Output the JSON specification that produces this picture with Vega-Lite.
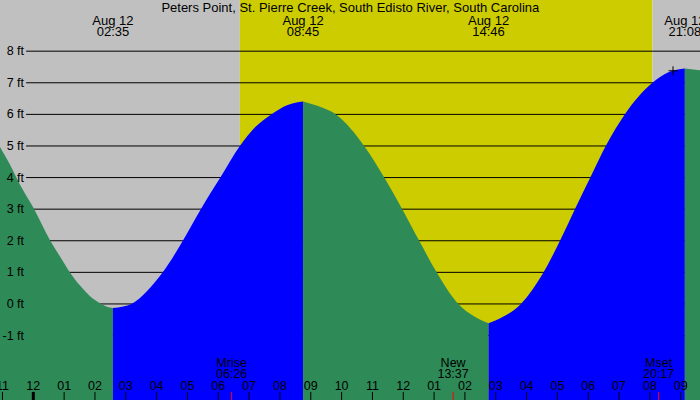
{
  "$schema": "https://vega.github.io/schema/vega-lite/v6.json",
  "width": 700,
  "height": 400,
  "autosize": {"type": "fit", "contains": "padding"},
  "padding": 0,
  "config": {
    "view": {"stroke": null},
    "axis": {"disable": true},
    "text": {"font": "Liberation Sans", "fontSize": 12.5, "color": "black"}
  },
  "datasets": {
    "station": [{"name": "Peters Point, St. Pierre Creek, South Edisto River, South Carolina"}],
    "sky": [
      {"start": "2018-08-11T22:00", "end": "2018-08-12T06:42", "sky": "night"},
      {"start": "2018-08-12T06:42", "end": "2018-08-12T20:05", "sky": "day"},
      {"start": "2018-08-12T20:05", "end": "2018-08-12T22:00", "sky": "night"}
    ],
    "levels": [
      {"ft": -1, "lab": "-1 ft"}, {"ft": 0, "lab": "0 ft"}, {"ft": 1, "lab": "1 ft"},
      {"ft": 2, "lab": "2 ft"}, {"ft": 3, "lab": "3 ft"}, {"ft": 4, "lab": "4 ft"},
      {"ft": 5, "lab": "5 ft"}, {"ft": 6, "lab": "6 ft"}, {"ft": 7, "lab": "7 ft"},
      {"ft": 8, "lab": "8 ft"}
    ],
    "tide": [
      {"t": "2018-08-11T22:50", "h": 5.12, "seg": "a", "dir": "falling"},
      {"t": "2018-08-11T22:55", "h": 4.97, "seg": "a", "dir": "falling"},
      {"t": "2018-08-11T23:15", "h": 4.40, "seg": "a", "dir": "falling"},
      {"t": "2018-08-11T23:34", "h": 3.78, "seg": "a", "dir": "falling"},
      {"t": "2018-08-12T00:00", "h": 3.05, "seg": "a", "dir": "falling"},
      {"t": "2018-08-12T00:32", "h": 2.03, "seg": "a", "dir": "falling"},
      {"t": "2018-08-12T00:52", "h": 1.50, "seg": "a", "dir": "falling"},
      {"t": "2018-08-12T01:10", "h": 1.03, "seg": "a", "dir": "falling"},
      {"t": "2018-08-12T01:31", "h": 0.58, "seg": "a", "dir": "falling"},
      {"t": "2018-08-12T01:50", "h": 0.25, "seg": "a", "dir": "falling"},
      {"t": "2018-08-12T02:10", "h": 0.02, "seg": "a", "dir": "falling"},
      {"t": "2018-08-12T02:22", "h": -0.08, "seg": "a", "dir": "falling"},
      {"t": "2018-08-12T02:35", "h": -0.13, "seg": "a", "dir": "falling"},
      {"t": "2018-08-12T02:35", "h": -0.13, "seg": "b", "dir": "rising"},
      {"t": "2018-08-12T02:55", "h": -0.08, "seg": "b", "dir": "rising"},
      {"t": "2018-08-12T03:11", "h": 0.0, "seg": "b", "dir": "rising"},
      {"t": "2018-08-12T03:42", "h": 0.42, "seg": "b", "dir": "rising"},
      {"t": "2018-08-12T04:12", "h": 1.0, "seg": "b", "dir": "rising"},
      {"t": "2018-08-12T04:51", "h": 2.0, "seg": "b", "dir": "rising"},
      {"t": "2018-08-12T05:26", "h": 3.0, "seg": "b", "dir": "rising"},
      {"t": "2018-08-12T06:04", "h": 4.0, "seg": "b", "dir": "rising"},
      {"t": "2018-08-12T06:42", "h": 5.0, "seg": "b", "dir": "rising"},
      {"t": "2018-08-12T07:12", "h": 5.6, "seg": "b", "dir": "rising"},
      {"t": "2018-08-12T07:43", "h": 6.0, "seg": "b", "dir": "rising"},
      {"t": "2018-08-12T08:15", "h": 6.3, "seg": "b", "dir": "rising"},
      {"t": "2018-08-12T08:45", "h": 6.41, "seg": "b", "dir": "rising"},
      {"t": "2018-08-12T08:45", "h": 6.41, "seg": "c", "dir": "falling"},
      {"t": "2018-08-12T09:18", "h": 6.24, "seg": "c", "dir": "falling"},
      {"t": "2018-08-12T09:49", "h": 6.0, "seg": "c", "dir": "falling"},
      {"t": "2018-08-12T10:44", "h": 5.0, "seg": "c", "dir": "falling"},
      {"t": "2018-08-12T11:23", "h": 4.0, "seg": "c", "dir": "falling"},
      {"t": "2018-08-12T11:58", "h": 3.0, "seg": "c", "dir": "falling"},
      {"t": "2018-08-12T12:31", "h": 2.0, "seg": "c", "dir": "falling"},
      {"t": "2018-08-12T13:05", "h": 1.0, "seg": "c", "dir": "falling"},
      {"t": "2018-08-12T13:47", "h": 0.0, "seg": "c", "dir": "falling"},
      {"t": "2018-08-12T14:16", "h": -0.37, "seg": "c", "dir": "falling"},
      {"t": "2018-08-12T14:46", "h": -0.61, "seg": "c", "dir": "falling"},
      {"t": "2018-08-12T14:46", "h": -0.61, "seg": "d", "dir": "rising"},
      {"t": "2018-08-12T15:15", "h": -0.40, "seg": "d", "dir": "rising"},
      {"t": "2018-08-12T15:49", "h": 0.0, "seg": "d", "dir": "rising"},
      {"t": "2018-08-12T16:33", "h": 1.0, "seg": "d", "dir": "rising"},
      {"t": "2018-08-12T17:05", "h": 2.0, "seg": "d", "dir": "rising"},
      {"t": "2018-08-12T17:34", "h": 3.0, "seg": "d", "dir": "rising"},
      {"t": "2018-08-12T18:04", "h": 4.0, "seg": "d", "dir": "rising"},
      {"t": "2018-08-12T18:34", "h": 5.0, "seg": "d", "dir": "rising"},
      {"t": "2018-08-12T19:11", "h": 6.0, "seg": "d", "dir": "rising"},
      {"t": "2018-08-12T20:05", "h": 7.0, "seg": "d", "dir": "rising"},
      {"t": "2018-08-12T20:36", "h": 7.33, "seg": "d", "dir": "rising"},
      {"t": "2018-08-12T21:08", "h": 7.45, "seg": "d", "dir": "rising"},
      {"t": "2018-08-12T21:08", "h": 7.45, "seg": "e", "dir": "falling"},
      {"t": "2018-08-12T21:40", "h": 7.39, "seg": "e", "dir": "falling"}
    ],
    "extremes": [
      {"t": "2018-08-12T02:35", "h": -0.13},
      {"t": "2018-08-12T08:45", "h": 6.41},
      {"t": "2018-08-12T14:46", "h": -0.61},
      {"t": "2018-08-12T21:08", "h": 7.45}
    ],
    "hours": [
      {"t": "2018-08-11T23:00"}, {"t": "2018-08-12T00:00"}, {"t": "2018-08-12T01:00"},
      {"t": "2018-08-12T02:00"}, {"t": "2018-08-12T03:00"}, {"t": "2018-08-12T04:00"},
      {"t": "2018-08-12T05:00"}, {"t": "2018-08-12T06:00"}, {"t": "2018-08-12T07:00"},
      {"t": "2018-08-12T08:00"}, {"t": "2018-08-12T09:00"}, {"t": "2018-08-12T10:00"},
      {"t": "2018-08-12T11:00"}, {"t": "2018-08-12T12:00"}, {"t": "2018-08-12T13:00"},
      {"t": "2018-08-12T14:00"}, {"t": "2018-08-12T15:00"}, {"t": "2018-08-12T16:00"},
      {"t": "2018-08-12T17:00"}, {"t": "2018-08-12T18:00"}, {"t": "2018-08-12T19:00"},
      {"t": "2018-08-12T20:00"}, {"t": "2018-08-12T21:00"}
    ],
    "days": [{"t": "2018-08-12T00:00"}],
    "moon": [
      {"t": "2018-08-12T06:26", "ev": "Mrise"},
      {"t": "2018-08-12T13:37", "ev": "New"},
      {"t": "2018-08-12T20:17", "ev": "Mset"}
    ],
    "marker": [{"t": "2018-08-12T20:45", "h": 7.38}]
  },
  "layer": [
    {
      "data": {"name": "sky"},
      "mark": {"type": "rect", "clip": true},
      "encoding": {
        "x": {
          "field": "start", "type": "temporal", "axis": null,
          "scale": {"domain": [
            {"year": 2018, "month": 8, "date": 11, "hours": 22, "minutes": 55, "seconds": 12},
            {"year": 2018, "month": 8, "date": 12, "hours": 21, "minutes": 37, "seconds": 30}
          ]}
        },
        "x2": {"field": "end"},
        "color": {
          "field": "sky", "type": "nominal", "legend": null,
          "scale": {"domain": ["night", "day", "falling", "rising"], "range": ["#c0c0c0", "#cccc00", "#2e8b57", "#0000ff"]}
        }
      }
    },
    {
      "data": {"name": "levels"},
      "mark": {"type": "rule", "color": "black", "strokeWidth": 1, "clip": true},
      "encoding": {
        "y": {"field": "ft", "type": "quantitative", "axis": null, "scale": {"domain": [-3.04, 9.62], "nice": false, "zero": false}},
        "x": {"datum": {"year": 2018, "month": 8, "date": 11, "hours": 23, "minutes": 46}, "type": "temporal"},
        "x2": {"datum": {"year": 2018, "month": 8, "date": 12, "hours": 22, "minutes": 0}}
      }
    },
    {
      "data": {"name": "tide"},
      "mark": {"type": "area", "interpolate": "monotone", "clip": true},
      "encoding": {
        "x": {"field": "t", "type": "temporal"},
        "y": {"field": "h", "type": "quantitative", "stack": null},
        "y2": {"datum": -3.2},
        "color": {"field": "dir", "type": "nominal", "legend": null},
        "detail": {"field": "seg"}
      }
    },
    {
      "data": {"name": "levels"},
      "mark": {"type": "text", "align": "right", "baseline": "alphabetic", "dy": 4, "clip": true},
      "encoding": {
        "y": {"field": "ft", "type": "quantitative"},
        "x": {"datum": {"year": 2018, "month": 8, "date": 11, "hours": 23, "minutes": 42}, "type": "temporal"},
        "text": {"field": "lab"}
      }
    },
    {
      "data": {"name": "hours"},
      "mark": {"type": "rule", "color": "black", "strokeWidth": 1, "clip": true},
      "encoding": {
        "x": {"field": "t", "type": "temporal"},
        "y": {"datum": -2.785},
        "y2": {"datum": -3.2}
      }
    },
    {
      "data": {"name": "days"},
      "mark": {"type": "rule", "color": "black", "strokeWidth": 3, "clip": true},
      "encoding": {
        "x": {"field": "t", "type": "temporal"},
        "y": {"datum": -2.785},
        "y2": {"datum": -3.2}
      }
    },
    {
      "data": {"name": "moon"},
      "mark": {"type": "rule", "color": "#ff0000", "strokeWidth": 1, "clip": true},
      "encoding": {
        "x": {"field": "t", "type": "temporal"},
        "y": {"datum": -2.785},
        "y2": {"datum": -3.2}
      }
    },
    {
      "data": {"name": "hours"},
      "mark": {"type": "text", "align": "center", "baseline": "alphabetic", "clip": true},
      "encoding": {
        "x": {"field": "t", "type": "temporal"},
        "y": {"datum": -2.72},
        "text": {"field": "t", "type": "temporal", "format": "%I"}
      }
    },
    {
      "data": {"name": "moon"},
      "mark": {"type": "text", "align": "center", "baseline": "alphabetic", "clip": true},
      "encoding": {
        "x": {"field": "t", "type": "temporal"},
        "y": {"datum": -1.98},
        "text": {"field": "ev"}
      }
    },
    {
      "data": {"name": "moon"},
      "mark": {"type": "text", "align": "center", "baseline": "alphabetic", "clip": true},
      "encoding": {
        "x": {"field": "t", "type": "temporal"},
        "y": {"datum": -2.33},
        "text": {"field": "t", "type": "temporal", "format": "%H:%M"}
      }
    },
    {
      "data": {"name": "extremes"},
      "mark": {"type": "text", "align": "center", "baseline": "alphabetic", "fontSize": 13, "clip": true},
      "encoding": {
        "x": {"field": "t", "type": "temporal"},
        "y": {"datum": 8.83},
        "text": {"field": "t", "type": "temporal", "format": "%b %d"}
      }
    },
    {
      "data": {"name": "extremes"},
      "mark": {"type": "text", "align": "center", "baseline": "alphabetic", "fontSize": 13, "clip": true},
      "encoding": {
        "x": {"field": "t", "type": "temporal"},
        "y": {"datum": 8.48},
        "text": {"field": "t", "type": "temporal", "format": "%H:%M"}
      }
    },
    {
      "data": {"name": "station"},
      "mark": {"type": "text", "align": "center", "baseline": "alphabetic", "fontSize": 13, "clip": true},
      "encoding": {
        "x": {"datum": {"year": 2018, "month": 8, "date": 12, "hours": 10, "minutes": 17}, "type": "temporal"},
        "y": {"datum": 9.256},
        "text": {"field": "name"}
      }
    },
    {
      "data": {"name": "marker"},
      "mark": {"type": "point", "shape": "M-1,0L1,0M0,-1L0,1", "size": 81, "filled": false, "stroke": "black", "strokeWidth": 1, "opacity": 1, "clip": true},
      "encoding": {
        "x": {"field": "t", "type": "temporal"},
        "y": {"field": "h", "type": "quantitative"}
      }
    }
  ]
}
